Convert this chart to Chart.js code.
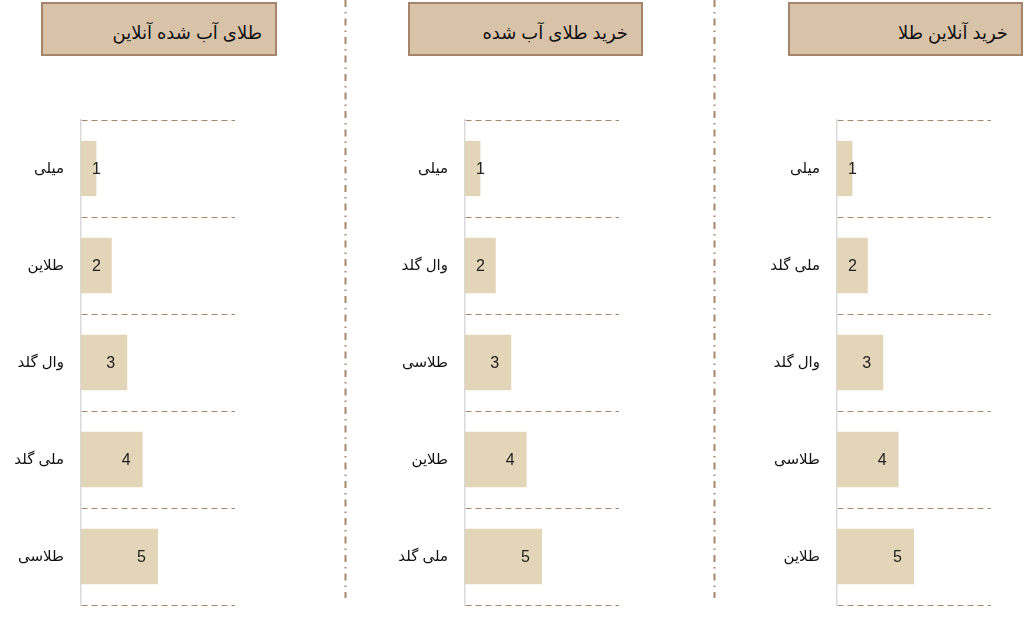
<!DOCTYPE html>
<html>
<head>
<meta charset="utf-8">
<script src="https://cdn.jsdelivr.net/npm/chart.js@4.4.1/dist/chart.umd.min.js"></script>
<style>
  html, body { margin: 0; padding: 0; background: #fff; }
  body { width: 1024px; height: 628px; position: relative; overflow: hidden;
         font-family: "Liberation Sans", "DejaVu Sans", sans-serif; }
  .title-box { position: absolute; top: 2px; height: 54px; box-sizing: border-box;
               background: #d8c3a9; border: 2px solid #a4856a;
               direction: rtl; text-align: right; padding-right: 13px;
               line-height: 58px; font-size: 18px; color: #111; }
  .panel { position: absolute; top: 94px; }
  svg.sep { position: absolute; left: 0; top: 0; }
</style>
</head>
<body>

<div class="title-box" style="left:41px; width:236px;">طلای آب شده آنلاین</div>
<div class="title-box" style="left:408px; width:235px;">خرید طلای آب شده</div>
<div class="title-box" style="left:788px; width:235px;">خرید آنلاین طلا</div>

<svg class="sep" width="1024" height="628">
  <line x1="345.5" y1="0" x2="345.5" y2="598" stroke="#a8876a" stroke-width="2" stroke-dasharray="7,5,1.5,5"/>
  <line x1="714.5" y1="0" x2="714.5" y2="598" stroke="#a8876a" stroke-width="2" stroke-dasharray="7,5,1.5,5"/>
</svg>

<div class="panel" style="left:0px;"><canvas id="chart1" width="250" height="537"></canvas></div>
<div class="panel" style="left:384px;"><canvas id="chart2" width="250" height="537"></canvas></div>
<div class="panel" style="left:756px;"><canvas id="chart3" width="250" height="537"></canvas></div>

<script>
// داده‌ها
const values = [1, 2, 3, 4, 5];
const categories1 = ['میلی', 'طلاین', 'وال گلد', 'ملی گلد', 'طلاسی'];
const categories2 = ['میلی', 'وال گلد', 'طلاسی', 'طلاین', 'ملی گلد'];
const categories3 = ['میلی', 'ملی گلد', 'وال گلد', 'طلاسی', 'طلاین'];
const axisMax = 10;

const barColor = '#e3d5b8';
const gridColor = '#a8876a';

// برچسب مقدار داخل انتهای میله
const valueLabels = {
    id: 'valueLabels',
    afterDatasetsDraw(chart) {
        const ctx = chart.ctx;
        const meta = chart.getDatasetMeta(0);
        ctx.save();
        ctx.font = '16px "Liberation Sans", "DejaVu Sans", sans-serif';
        ctx.fillStyle = '#222';
        ctx.textAlign = 'right';
        ctx.textBaseline = 'middle';
        meta.data.forEach((bar, i) => {
            const x = Math.max(bar.x - 12, bar.base + 20);
            ctx.fillText(String(chart.data.datasets[0].data[i]), x, bar.y + 1);
        });
        ctx.restore();
    }
};

function createPanel(id, labels) {
    const ctx = document.getElementById(id).getContext('2d');
    new Chart(ctx, {
        type: 'bar',
        data: {
            labels: labels,
            datasets: [{
                data: values,
                backgroundColor: barColor,
                borderWidth: 0,
                categoryPercentage: 1,
                barPercentage: 0.57
            }]
        },
        options: {
            indexAxis: 'y',
            responsive: false,
            animation: false,
            layout: { padding: { top: 10, bottom: 0, right: 15, left: 0 } },
            plugins: {
                legend: { display: false },
                tooltip: { enabled: false }
            },
            scales: {
                x: {
                    display: false,
                    min: 0,
                    max: axisMax
                },
                y: {
                    afterFit: (scale) => { scale.width = 81; },
                    grid: {
                        color: gridColor,
                        lineWidth: 1,
                        drawTicks: false
                    },
                    border: {
                        display: true,
                        color: '#d9d9d9',
                        width: 1.5,
                        dash: [6, 4]
                    },
                    ticks: {
                        padding: 17,
                        color: '#111',
                        font: { family: '"Liberation Sans", "DejaVu Sans", sans-serif', size: 15 }
                    }
                }
            }
        },
        plugins: [valueLabels]
    });
}

createPanel('chart1', categories1);
createPanel('chart2', categories2);
createPanel('chart3', categories3);
</script>
</body>
</html>
